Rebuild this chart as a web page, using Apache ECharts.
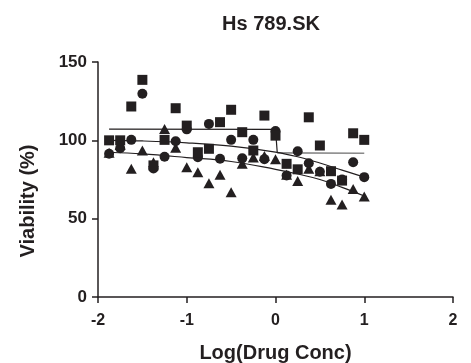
<!DOCTYPE html>
<html>
<head>
<meta charset="utf-8">
<script src="https://cdn.jsdelivr.net/npm/echarts@6/dist/echarts.min.js"></script>
<style>html,body{margin:0;padding:0;background:#fff}#c{width:471px;height:363px}</style>
</head>
<body>
<div id="c"></div>
<script>
const logConc = [-1.875,-1.75,-1.625,-1.5,-1.375,-1.25,-1.125,-1,-0.875,-0.75,-0.625,-0.5,-0.375,-0.25,-0.125,0,0.125,0.25,0.375,0.5,0.625,0.75,0.875,1];
const squares = [100,100,121.6,138.6,84,100.3,120.5,109.4,92.4,94.6,111.6,119.5,105.2,93.5,115.8,103,85,81.5,114.7,96.7,80.3,74.3,104.5,100.3];
const circles = [91.4,95,100.3,129.7,82,89.5,99.4,107,89.2,110.5,88.2,100.3,88.5,100.3,88,106,77.5,93,85.4,80,72.2,75,86,76.5];
const triangles = [92,97,81.8,93.5,86,107.3,95.2,82.8,79.6,72.6,78,66.9,85,89,90,88,78,74,81.8,80.3,62,59,69,64.1];
const squareFitX = [-1.875,0,0.02,1];
const squareFitY = [107.2,107,92,91.8];
const circleFitX = [-1.875,-1.5,-1,-0.5,0,0.25,0.5,0.75,1];
const circleFitY = [100,99.6,98.4,96.3,92.5,89.5,85.5,81,76.5];
const triangleFitX = [-1.875,-1.5,-1,-0.5,0,0.25,0.5,0.75,1];
const triangleFitY = [92.4,91.3,89,86.5,81.5,78.5,75,70,64.5];
const xTicks = [-2,-1,0,1,2];
const yTicks = [0,50,100,150];

const pairs = (xs, ys) => xs.map((x, i) => [x, ys[i]]);
const ink = '#231f20';
const font = '"Liberation Sans", Arial, sans-serif';

const chart = echarts.init(document.getElementById('c'));
chart.setOption({
  animation: false,
  title: {
    text: 'Hs 789.SK', left: 266, top: 9, textAlign: 'center',
    textStyle: {fontFamily: font, fontWeight: 'bold', fontSize: 20, color: ink}
  },
  graphic: [{
    type: 'text', x: 28, y: 201, rotation: Math.PI / 2,
    style: {text: 'Viability (%)', fontFamily: font, fontWeight: 'bold', fontSize: 20, fill: ink,
      textAlign: 'center', textVerticalAlign: 'middle'}
  }],
  grid: {left: 98, right: 18, top: 62, bottom: 66, containLabel: false, outerBoundsMode: 'none'},
  xAxis: {
    type: 'value', min: -2, max: 2, interval: 1,
    name: 'Log(Drug Conc)', nameLocation: 'middle', nameGap: 46,
    nameTextStyle: {fontFamily: font, fontWeight: 'bold', fontSize: 20, color: ink},
    axisLine: {onZero: false, lineStyle: {color: ink, width: 1.5}},
    axisTick: {length: 6, lineStyle: {color: ink, width: 1.5}},
    axisLabel: {fontFamily: font, fontWeight: 'bold', fontSize: 16, color: ink, margin: 16,
      formatter: v => xTicks.includes(v) ? String(v) : ''},
    splitLine: {show: false}
  },
  yAxis: {
    type: 'value', min: 0, max: 150, interval: 50,
    axisLine: {show: true, onZero: false, lineStyle: {color: ink, width: 1.5}},
    axisTick: {show: true, length: 6, lineStyle: {color: ink, width: 1.5}},
    axisLabel: {fontFamily: font, fontWeight: 'bold', fontSize: 17, color: ink, margin: 11,
      formatter: v => yTicks.includes(v) ? String(v) : ''},
    splitLine: {show: false}
  },
  series: [
    {type: 'line', data: pairs(squareFitX.slice(0, 3), squareFitY.slice(0, 3)), showSymbol: false, z: 1,
      lineStyle: {color: ink, width: 1.2}},
    {type: 'line', data: pairs(squareFitX.slice(2), squareFitY.slice(2)), showSymbol: false, z: 1,
      lineStyle: {color: '#8a8a8a', width: 1.6}},
    {type: 'line', data: pairs(circleFitX, circleFitY), showSymbol: false, smooth: 0.4, z: 1,
      lineStyle: {color: ink, width: 1.2}},
    {type: 'line', data: pairs(triangleFitX, triangleFitY), showSymbol: false, smooth: 0.4, z: 1,
      lineStyle: {color: ink, width: 1.2}},
    {type: 'scatter', data: pairs(logConc, triangles), symbol: 'triangle', symbolSize: [11, 10], z: 3,
      itemStyle: {color: ink, opacity: 1}},
    {type: 'scatter', data: pairs(logConc, circles), symbol: 'circle', symbolSize: 10, z: 3,
      itemStyle: {color: ink, opacity: 1}},
    {type: 'scatter', data: pairs(logConc, squares), symbol: 'rect', symbolSize: 10, z: 3,
      itemStyle: {color: ink, opacity: 1}}
  ]
});
</script>
</body>
</html>
